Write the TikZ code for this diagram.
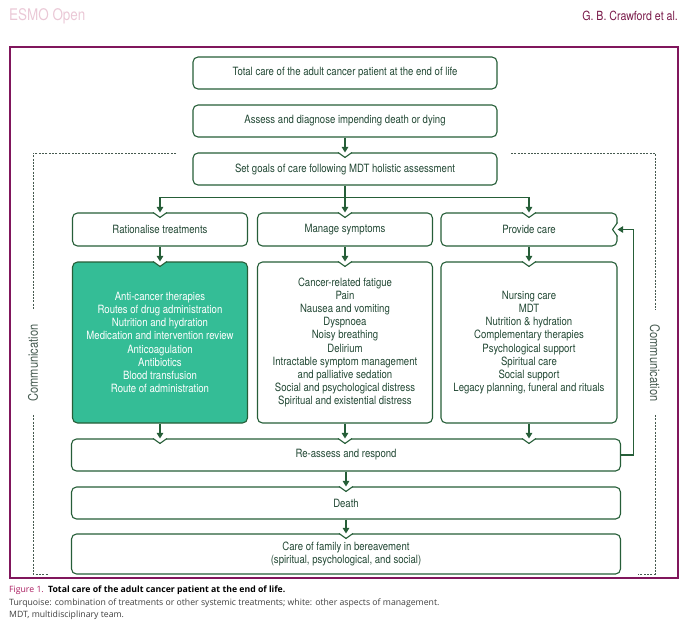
\documentclass[tikz,border=0pt]{standalone}
\usepackage{fontspec}
\setmainfont{TeX Gyre Heros}[FakeStretch=0.84]
\newfontfamily\capfont{Open Sans}
\usepackage{tikz}
\usetikzlibrary{arrows.meta}
\usetikzlibrary{positioning}
\usetikzlibrary{calc}
\definecolor{boxgreen}{RGB}{38,94,56}
\definecolor{boxtext}{RGB}{34,72,52}
\definecolor{turq}{RGB}{52,189,150}
\definecolor{framepurple}{RGB}{128,22,92}
\definecolor{esmopink}{RGB}{234,200,214}
\definecolor{authorred}{RGB}{120,24,72}
\definecolor{figred}{RGB}{170,28,96}
\definecolor{dashgrey}{RGB}{70,90,80}
\tikzstyle{stage}=[draw=boxgreen,line width=1.1pt,rounded corners=5pt,fill=white,text=boxtext,align=center,inner sep=2pt,font=\fontsize{11.4}{13.2}\selectfont]
\tikzstyle{flow}=[draw=boxgreen,line width=1.1pt,-{Triangle[width=6.5pt,length=5.5pt]}]
\tikzstyle{comm}=[draw=dashgrey,line width=0.7pt,dash pattern=on 2pt off 1.3pt]
% V-shaped dent where an arrow enters a box
\newcommand{\topnotch}[1]{%
  \fill[white] ($#1+(-7,-1)$) -- ($#1+(7,-1)$) -- ($#1+(7,0)$) -- ($#1+(0,5)$) -- ($#1+(-7,0)$) -- cycle;
  \draw[boxgreen,line width=1.1pt] ($#1+(-7,0)$) -- ($#1+(0,5)$) -- ($#1+(7,0)$);}
\newcommand{\sidenotch}[1]{%
  \fill[white] ($#1+(1,-7)$) -- ($#1+(1,7)$) -- ($#1+(0,7)$) -- ($#1+(-5,0)$) -- ($#1+(0,-7)$) -- cycle;
  \draw[boxgreen,line width=1.1pt] ($#1+(0,-7)$) -- ($#1+(-5,0)$) -- ($#1+(0,7)$);}

\begin{document}
\begin{tikzpicture}[x=1pt,y=-1pt]
\useasboundingbox (0,0) rectangle (689,622);

% page header
\node[anchor=west,inner sep=0pt,text=esmopink,font=\fontsize{16}{18}\selectfont] (journal) at (9,16) {ESMO Open};
\node[anchor=east,inner sep=0pt,text=authorred,font=\fontsize{12.6}{14}\selectfont] (authors) at (678,16) {G. B. Crawford et al.};

\draw[framepurple,line width=1.4pt] (10,47) rectangle (678,578);

% boxes
\node[stage,minimum width=304pt,minimum height=32pt] (total) at (345,73) {Total care of the adult cancer patient at the end of life};
\node[stage,minimum width=304pt,minimum height=32pt] (assess) at (345,121) {Assess and diagnose impending death or dying};
\node[stage,minimum width=304pt,minimum height=32pt] (goals) at (345,169) {Set goals of care following MDT holistic assessment};

\node[stage,minimum width=175pt,minimum height=33pt] (rat) at (160,229.5) {Rationalise treatments};
\node[stage,minimum width=175pt,minimum height=33pt] (man) at (345,229.5) {Manage symptoms};
\node[stage,minimum width=176pt,minimum height=33pt] (prov) at (529,229.5) {Provide care};

\node[stage,minimum width=175pt,minimum height=161pt,fill=turq,text=white] (ratlist) at (160,342.5) {Anti-cancer therapies\\Routes of drug administration\\Nutrition and hydration\\Medication and intervention review\\Anticoagulation\\Antibiotics\\Blood transfusion\\Route of administration};
\node[stage,minimum width=175pt,minimum height=161pt] (manlist) at (345,342.5) {Cancer-related fatigue\\Pain\\Nausea and vomiting\\Dyspnoea\\Noisy breathing\\Delirium\\Intractable symptom management\\and palliative sedation\\Social and psychological distress\\Spiritual and existential distress};
\node[stage,minimum width=176pt,minimum height=161pt] (provlist) at (529,342.5) {Nursing care\\MDT\\Nutrition \& hydration\\Complementary therapies\\Psychological support\\Spiritual care\\Social support\\Legacy planning, funeral and rituals};

\node[stage,minimum width=549pt,minimum height=32pt] (reassess) at (346,455) {Re-assess and respond};
\node[stage,minimum width=549pt,minimum height=32pt] (death) at (346,503) {Death};
\node[stage,minimum width=549pt,minimum height=40pt] (family) at (346,554) {Care of family in bereavement\\(spiritual, psychological, and social)};

% dents
\topnotch{(goals.north)}
\topnotch{(rat.north)}
\topnotch{(man.north)}
\topnotch{(prov.north)}
\topnotch{(ratlist.north)}
\topnotch{(manlist.north)}
\topnotch{(provlist.north)}
\topnotch{(reassess.north -| ratlist.south)}
\topnotch{(reassess.north -| manlist.south)}
\topnotch{(reassess.north -| provlist.south)}
\topnotch{(death.north)}
\topnotch{(family.north)}
\sidenotch{(prov.east)}

% arrows
\coordinate (split) at ($(goals.south)+(0,12)$);
\draw[flow] (assess.south) -- (goals.north);
\draw[flow] (goals.south) -- (man.north);
\draw[flow] (split) -| (rat.north);
\draw[flow] (split) -| (prov.north);
\draw[flow] (rat.south) -- (ratlist.north);
\draw[flow] (man.south) -- (manlist.north);
\draw[flow] (prov.south) -- (provlist.north);
\draw[flow] (ratlist.south) -- (reassess.north -| ratlist.south);
\draw[flow] (manlist.south) -- (reassess.north -| manlist.south);
\draw[flow] (provlist.south) -- (reassess.north -| provlist.south);
\draw[flow] (reassess.south) -- (death.north);
\draw[flow] (death.south) -- (family.north);
\coordinate (loop) at ($(reassess.east)+(12,0)$);
\draw[flow] (reassess.east) -- (loop) |- (prov.east);

% communication brackets
\node[rotate=90,text=dashgrey,font=\fontsize{13.2}{15}\selectfont] (commleft) at (33,363) {Communication};
\node[rotate=-90,text=dashgrey,font=\fontsize{13.2}{15}\selectfont] (commright) at (655,363) {Communication};
\draw[comm] (176,153) -- (33,153) -- (33,310);
\draw[comm] (33,415) -- (33,574) -- (48,574);
\draw[comm] (511,153) -- (655,153) -- (655,310);
\draw[comm] (655,415) -- (655,574) -- (638,574);

% caption
\node[anchor=west,inner sep=0pt,font=\capfont\fontsize{8.7}{10}\selectfont] (figtitle) at (9,590) {\textcolor{figred}{Figure 1.}\enspace\textbf{Total care of the adult cancer patient at the end of life.}};
\node[anchor=west,inner sep=0pt,text=black!75,font=\capfont\fontsize{8.7}{10}\selectfont] (figkey) at (9,603) {Turquoise: combination of treatments or other systemic treatments; white: other aspects of management.};
\node[anchor=west,inner sep=0pt,text=black!75,font=\capfont\fontsize{8.7}{10}\selectfont] (figabbr) at (9,615) {MDT, multidisciplinary team.};
\end{tikzpicture}
\end{document}
